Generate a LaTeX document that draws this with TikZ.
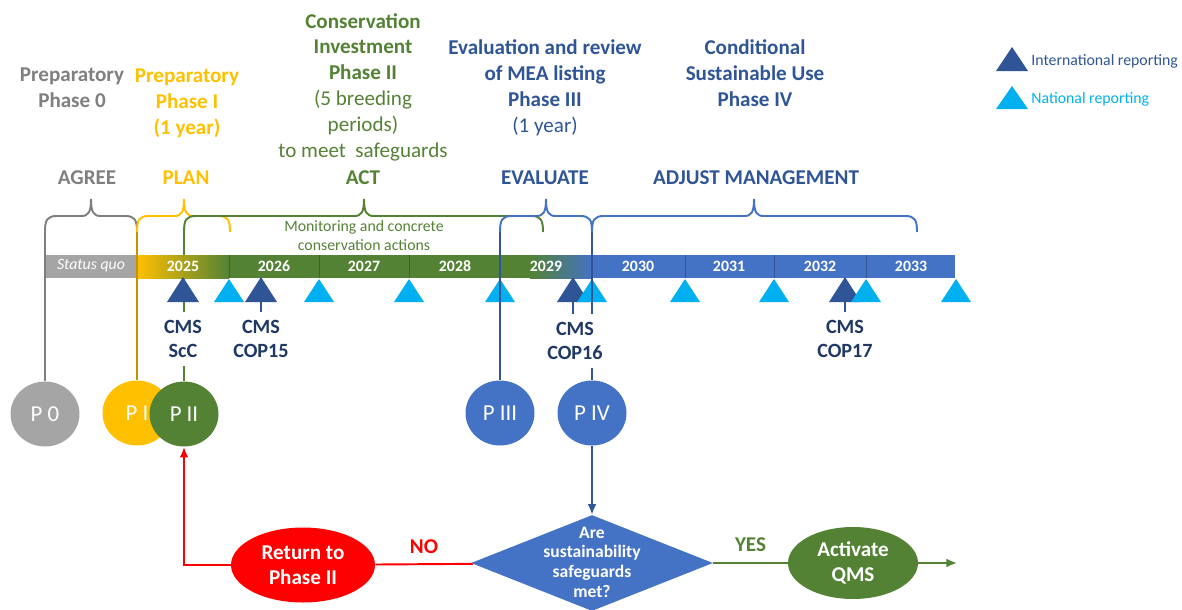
\documentclass[tikz,border=0pt]{standalone}
\usepackage{fontspec}
\setmainfont{Carlito}
\usepackage{tikz}
\usetikzlibrary{positioning, arrows.meta, shapes.geometric}

\definecolor{pgray}{HTML}{A5A5A5}
\definecolor{dgray}{HTML}{7F7F7F}
\definecolor{pyellow}{HTML}{FFC000}
\definecolor{dyellow}{HTML}{C59300}
\definecolor{pgreen}{HTML}{548235}
\definecolor{pblue}{HTML}{4472C4}
\definecolor{dblue}{HTML}{2F5597}
\definecolor{lblue}{HTML}{00B0F0}
\definecolor{navy}{HTML}{1F3864}
\definecolor{pred}{HTML}{FF0000}

\tikzset{
    title/.style={align=center, inner sep=0pt, font=\fontsize{12}{14.7}\selectfont},
    keyword/.style={inner sep=0pt, font=\bfseries\fontsize{12}{14.7}\selectfont},
    phase/.style={ellipse, minimum width=1.38cm, minimum height=1.3cm, inner sep=0pt, text=white, font=\fontsize{13}{15}\selectfont},
    yearlabel/.style={inner sep=0pt, text=white, font=\bfseries\fontsize{9}{11}\selectfont},
    cms/.style={align=center, fill=white, text=navy, inner xsep=1pt, inner ysep=5pt, font=\bfseries\fontsize{11.5}{13.6}\selectfont},
    link/.style={line width=1.1pt},
    decision/.style={diamond, fill=pblue, minimum width=4.84cm, minimum height=1.92cm, inner sep=0pt},
    answer/.style={ellipse, align=center, inner sep=0pt, text=white, font=\bfseries\fontsize{12}{14.2}\selectfont},
    note/.style={align=center, inner sep=0pt, font=\fontsize{9}{10.8}\selectfont},
}

\begin{document}
\begin{tikzpicture}[x=0.02cm, y=-0.02cm]
    \useasboundingbox (0,0) rectangle (1182,609);

    % Phase titles
    \node[title, text=dgray] (t0) at (72,88) {\textbf{Preparatory}\\\textbf{Phase 0}};
    \node[title, text=pyellow] (t1) at (187,103) {\textbf{Preparatory}\\\textbf{Phase I}\\\textbf{(1 year)}};
    \node[title, text=pgreen] (t2) at (363,87) {\textbf{Conservation}\\\textbf{Investment}\\\textbf{Phase II}\\(5 breeding\\periods)\\to meet\ \ safeguards};
    \node[title, text=dblue] (t3) at (545,88) {\textbf{Evaluation and review}\\\textbf{of MEA listing}\\\textbf{Phase III}\\(1 year)};
    \node[title, text=dblue] (t4) at (755,73) {\textbf{Conditional}\\\textbf{Sustainable Use}\\\textbf{Phase IV}};

    % Key words
    \node[keyword, text=dgray] (k0) at (87,178) {AGREE};
    \node[keyword, text=pyellow] (k1) at (186,178) {PLAN};
    \node[keyword, text=pgreen] (k2) at (363,178) {ACT};
    \node[keyword, text=dblue] (k3) at (545,178) {EVALUATE};
    \node[keyword, text=dblue] (k4) at (756,178) {ADJUST MANAGEMENT};

    % Legend
    \fill[dblue] (996,71) -- (1012,47) -- (1028,71) -- cycle;
    \node[note, text=dblue, anchor=west] (leg1) at (1031,61) {International reporting};
    \fill[lblue] (996,109) -- (1012,86) -- (1028,109) -- cycle;
    \node[note, text=lblue, anchor=west] (leg2) at (1031,99) {National reporting};

    % Braces
    \foreach \a/\m/\b/\c in {45/91/137/dgray, 137/184/230/pyellow, 184/364/543/pgreen, 500/546/592/pblue, 592/754/917/pblue}
        \draw[link, \c] (\a,232) .. controls (\a,220) and (\a+2,216) .. (\a+12,216) -- (\m-10,216)
            .. controls (\m-3,216) and (\m,213) .. (\m,199) .. controls (\m,213) and (\m+3,216) .. (\m+10,216)
            -- (\b-12,216) .. controls (\b-2,216) and (\b,220) .. (\b,232);
    \node[note, text=pgreen] (mon) at (364,236) {Monitoring and concrete\\conservation actions};

    % Phase circles
    \node[phase, fill=pgray] (p0) at (45,414) {P 0};
    \node[phase, fill=pyellow] (p1) at (137,413) {P I};
    \node[phase, fill=pgreen] (p2) at (184,414) {P II};
    \node[phase, fill=pblue] (p3) at (500,413) {P III};
    \node[phase, fill=pblue] (p4) at (592,413) {P IV};

    % Lines behind the time bar
    \coordinate (e2) at (184,232);
    \draw[link, pgreen] (e2) -- (p2);
    \foreach \x in {261,573,845}
        \draw[link, dblue] (\x,290) -- (\x,318);

    % Time bar
    \fill[pgray] (45,255) rectangle (137,278);
    \shade[left color=pyellow, right color=pgreen] (137,255) rectangle (229,278);
    \fill[pgreen] (229,255) rectangle (530,278);
    \shade[left color=pgreen, right color=pblue] (530,255) rectangle (592,278);
    \fill[pblue] (592,255) rectangle (955,278);
    \foreach \x in {229,319,409,685,774,866}
        \draw[black, opacity=0.25] (\x,255) -- (\x,278);
    \node[yearlabel, font=\itshape\fontsize{9}{11}\selectfont] (sq) at (91,266) {Status quo};
    \foreach \x/\yr in {183/2025, 274/2026, 364/2027, 455/2028, 546/2029, 638/2030, 729/2031, 820/2032, 911/2033}
        \node[yearlabel] (y\yr) at (\x,266) {\yr};

    % Reporting triangles
    \foreach \x in {183,261,573,845}
        \fill[dblue] (\x-16,302) -- (\x,277) -- (\x+16,302) -- cycle;
    \foreach \x in {229,319,409,500,592,685,774,866,956}
        \fill[lblue] (\x-15,302) -- (\x,279) -- (\x+15,302) -- cycle;

    % Lines over the time bar
    \coordinate (e0) at (45,232);
    \coordinate (e1) at (137,232);
    \coordinate (e3) at (500,232);
    \coordinate (e4) at (592,232);
    \draw[link, dgray] (e0) -- (p0);
    \draw[link, dyellow] (e1) -- (p1);
    \draw[link, dblue] (e3) -- (p3);
    \draw[link, dblue] (e4) -- (p4);

    % CMS meetings
    \node[cms] (scc) at (183,339) {CMS\\ScC};
    \node[cms] (cop15) at (261,339) {CMS\\COP15};
    \node[cms] (cop16) at (575,341) {CMS\\COP16};
    \node[cms] (cop17) at (845,339) {CMS\\COP17};

    % Decision
    \node[decision] (check) at (592,563) {};
    \node[answer, font=\bfseries\fontsize{10}{11.2}\selectfont] (q) at (592,562) {Are\\sustainability\\safeguards\\met?};
    \node[answer, fill=pred, minimum width=2.88cm, minimum height=1.5cm] (back) at (303,565) {Return to\\Phase II};
    \node[answer, fill=pgreen, minimum width=2.6cm, minimum height=1.44cm] (qms) at (853,563) {Activate\\QMS};
    \coordinate (out) at (957,563);

    \draw[link, dblue, -{Latex[length=6pt, width=5pt]}] (p4) -- (check);
    \draw[link, pred] (check) -- node[keyword, text=pred, above=5.7pt] (no) {NO} (back);
    \draw[link, pred, -{Latex[length=6pt, width=5pt]}] (back) -| (p2);
    \draw[link, pgreen] (check) -- node[keyword, text=pgreen, above=5.7pt] (yes) {YES} (qms);
    \draw[link, pgreen, -{Latex[length=6pt, width=5pt]}] (qms) -- (out);
\end{tikzpicture}
\end{document}
